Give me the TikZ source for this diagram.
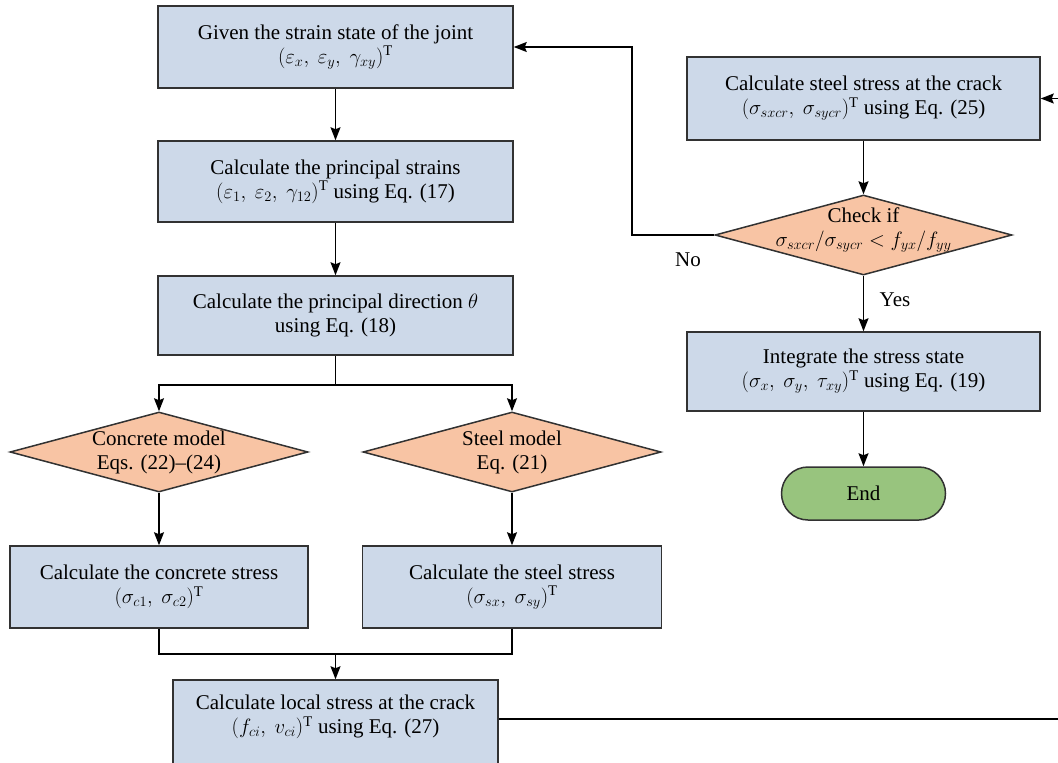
\documentclass[tikz,border=0pt]{standalone}
\usepackage{fontspec}
\setmainfont{Liberation Serif}
\usetikzlibrary{shapes.geometric,shapes.misc,arrows.meta}
\definecolor{boxblue}{RGB}{205,217,233}
\definecolor{decorange}{RGB}{248,196,164}
\definecolor{endgreen}{RGB}{152,196,126}
\definecolor{edgegray}{RGB}{50,50,50}
\tikzset{
  txt/.style={align=center, font=\fontsize{21}{24}\selectfont, inner sep=0pt},
  procbox/.style={draw=edgegray, line width=1.5pt, fill=boxblue, txt},
  decshape/.style={draw=edgegray, line width=1.5pt, fill=decorange, diamond, inner sep=0pt,
    minimum width=298pt, minimum height=80pt},
  endbox/.style={draw=edgegray, line width=1.5pt, fill=endgreen, rounded rectangle, txt,
    minimum width=164pt, minimum height=53pt},
  flow/.style={draw=black, line width=1.5pt, -{Stealth[length=13pt,width=10pt,inset=2pt]}},
  link/.style={draw=black, line width=1.5pt},
}
\begin{document}
\begin{tikzpicture}[x=1pt,y=-1pt]
\useasboundingbox (0,0) rectangle (1058,763);
\clip (0,0) rectangle (1058,763);

% left column: strain -> principal values
\node[procbox, minimum width=355pt, minimum height=82pt] (given) at (335.5,47)
  {Given the strain state of the joint\\$(\varepsilon_x,\ \varepsilon_y,\ \gamma_{xy})^{\mathrm{T}}$};
\node[procbox, minimum width=355pt, minimum height=81pt] (princ) at (335.5,181.5)
  {Calculate the principal strains\\$(\varepsilon_1,\ \varepsilon_2,\ \gamma_{12})^{\mathrm{T}}$ using Eq. (17)};
\node[procbox, minimum width=355pt, minimum height=79pt] (dir) at (335.5,315.5)
  {Calculate the principal direction $\theta$\\using Eq. (18)};

% material models
\node[decshape] (conc) at (159,452) {};
\node[txt] (conctxt) at (159,452) {Concrete model\\Eqs. (22)--(24)};
\node[decshape] (steel) at (512,452) {};
\node[txt] (steeltxt) at (512,452) {Steel model\\Eq. (21)};
\node[procbox, minimum width=298pt, minimum height=82pt] (cstress) at (159,587)
  {Calculate the concrete stress\\$(\sigma_{c1},\ \sigma_{c2})^{\mathrm{T}}$};
\node[procbox, minimum width=299pt, minimum height=82pt] (sstress) at (512,587)
  {Calculate the steel stress\\$(\sigma_{sx},\ \sigma_{sy})^{\mathrm{T}}$};
\node[procbox, minimum width=325pt, minimum height=100pt] (local) at (335.5,730) {};
\node[txt] (localtxt) at (335.5,717)
  {Calculate local stress at the crack\\$(f_{ci},\ v_{ci})^{\mathrm{T}}$ using Eq. (27)};

% right column
\node[procbox, minimum width=353pt, minimum height=83pt] (crack) at (863.5,98.5)
  {Calculate steel stress at the crack\\$(\sigma_{sxcr},\ \sigma_{sycr})^{\mathrm{T}}$ using Eq. (25)};
\node[decshape, minimum width=297pt] (check) at (863.5,235) {};
\node[txt] (checktxt) at (863.5,230) {Check if\\$\sigma_{sxcr}/\sigma_{sycr} < f_{yx}/f_{yy}$};
\node[procbox, minimum width=353pt, minimum height=79pt] (integ) at (863.5,371.5)
  {Integrate the stress state\\$(\sigma_x,\ \sigma_y,\ \tau_{xy})^{\mathrm{T}}$ using Eq. (19)};
\node[endbox] (end) at (863.5,493.5) {End};

\coordinate (split) at (335.5,385);
\coordinate (merge) at (335.5,654);
\coordinate (outR) at (1058,719);
\coordinate (inR) at (1058,98.5);
\coordinate (noturn) at (632,235);

% connectors
\draw[flow] (given) -- (princ);
\draw[flow] (princ) -- (dir);
\draw[link] (dir.south) -- (split);
\draw[flow] (split) -| (conc.north);
\draw[flow] (split) -| (steel.north);
\draw[flow] (conc.south) -- (cstress.north);
\draw[flow] (steel.south) -- (sstress.north);
\draw[link] (cstress.south) |- (merge);
\draw[link] (sstress.south) |- (merge);
\draw[flow] (merge) -- (local.north);
\draw[link] (local.east |- outR) -- (outR);
\draw[flow] (inR) -- (crack.east);
\draw[flow] (crack) -- (check);
\draw[flow] (check.west) -- (noturn) |- (given.east);
\draw[flow] (check.south) -- (integ.north);
\draw[flow] (integ) -- (end);

\node[txt] (nolbl) at (688,260) {No};
\node[txt] (yeslbl) at (895,300) {Yes};
\end{tikzpicture}
\end{document}
